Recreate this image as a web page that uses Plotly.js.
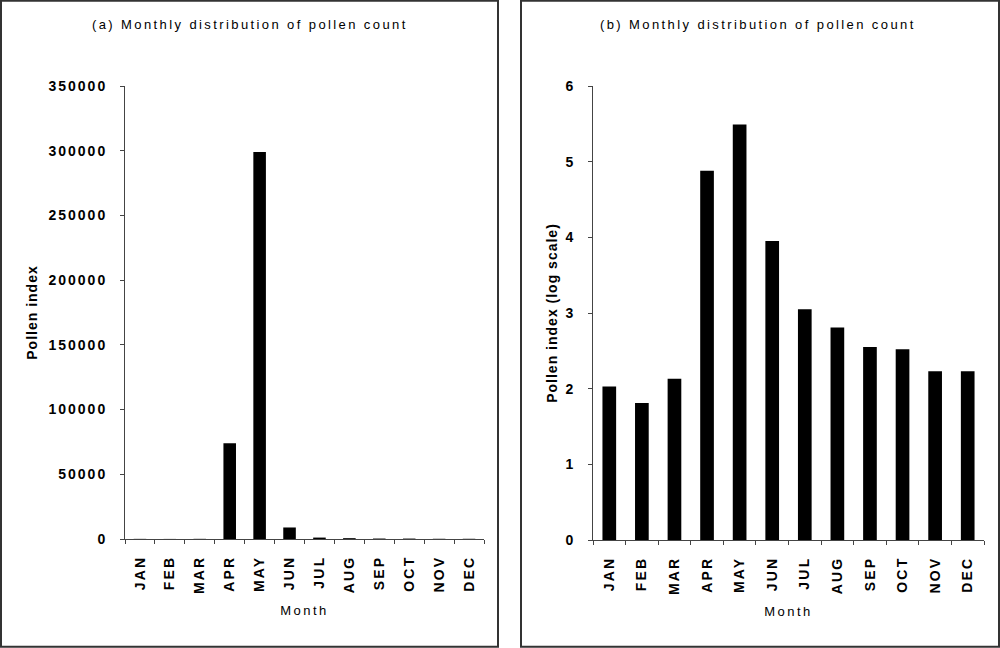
<!DOCTYPE html>
<html>
<head>
<meta charset="utf-8">
<script src="https://cdn.plot.ly/plotly-3.0.1.min.js"></script>
<style>
  html, body { margin: 0; padding: 0; background: #fff; }
  #chart { width: 1000px; height: 648px; }
  .annotation-text { letter-spacing: 2.4px; }
  .xtitle, .x2title { letter-spacing: 2.5px; }
  .ytitle, .y2title { letter-spacing: 1px; }
  .ytick text, .y2tick text { letter-spacing: 2px; }
  .xtick text, .x2tick text { letter-spacing: 2.2px; }
</style>
</head>
<body>
<div id="chart"></div>
<script>
const months = ["JAN", "FEB", "MAR", "APR", "MAY", "JUN", "JUL", "AUG", "SEP", "OCT", "NOV", "DEC"];
const pollenCount = [105, 63, 135, 74000, 299000, 8900, 1100, 650, 355, 330, 170, 170];
const pollenLog = [2.03, 1.81, 2.13, 4.88, 5.49, 3.95, 3.05, 2.81, 2.55, 2.52, 2.23, 2.23];
const leftTicks = [0, 50000, 100000, 150000, 200000, 250000, 300000, 350000];
const rightTicks = [0, 1, 2, 3, 4, 5, 6];

const FAMILY = "Liberation Sans, Arial, sans-serif";
const tickFont = { family: FAMILY, size: 14, color: "#000", weight: "bold" };
const titleFont = { family: FAMILY, size: 13, color: "#000" };
const yTitleFont = { family: FAMILY, size: 14, color: "#000", weight: "bold" };

const data = [
  { type: "bar", x: months, y: pollenCount, xaxis: "x", yaxis: "y",
    marker: { color: "#000", line: { width: 0 } }, hoverinfo: "x+y" },
  { type: "bar", x: months, y: pollenLog, xaxis: "x2", yaxis: "y2",
    marker: { color: "#000", line: { width: 0 } }, hoverinfo: "x+y" }
];

const axisLine = { showline: true, linecolor: "#444", linewidth: 1, showgrid: false, zeroline: false,
  ticks: "outside", ticklen: 4, tickcolor: "#444", tickwidth: 1 };

const layout = {
  width: 1000, height: 648,
  margin: { l: 0, r: 0, t: 0, b: 0 },
  paper_bgcolor: "#fff", plot_bgcolor: "#fff",
  showlegend: false,
  bargap: 0.58,
  xaxis: Object.assign({}, axisLine, {
    domain: [0.125, 0.484], anchor: "y", type: "category",
    tickson: "boundaries", tickangle: -90, tickfont: tickFont, ticklabelstandoff: 10,
    title: { text: "Month", font: titleFont, standoff: 12 }
  }),
  yaxis: Object.assign({}, axisLine, {
    domain: [1 - 539 / 648, 1 - 86 / 648], anchor: "x",
    range: [0, 350000], tickvals: leftTicks, ticktext: leftTicks.map(String),
    tickfont: tickFont, ticklabelstandoff: 10,
    title: { text: "Pollen index", font: yTitleFont, standoff: 7 }
  }),
  xaxis2: Object.assign({}, axisLine, {
    domain: [0.593, 0.984], anchor: "y2", type: "category",
    tickson: "boundaries", tickangle: -90, tickfont: tickFont, ticklabelstandoff: 10,
    title: { text: "Month", font: titleFont, standoff: 12 }
  }),
  yaxis2: Object.assign({}, axisLine, {
    domain: [1 - 540 / 648, 1 - 86 / 648], anchor: "x2",
    range: [0, 6], tickvals: rightTicks, ticktext: rightTicks.map(String),
    tickfont: tickFont, ticklabelstandoff: 10,
    title: { text: "Pollen index (log scale)", font: yTitleFont, standoff: 4 }
  }),
  annotations: [
    { text: "(a) Monthly distribution of pollen count", xref: "paper", yref: "paper",
      x: 0.25, y: 1 - 25 / 648, xanchor: "center", yanchor: "middle", showarrow: false, font: titleFont },
    { text: "(b) Monthly distribution of pollen count", xref: "paper", yref: "paper",
      x: 0.758, y: 1 - 25 / 648, xanchor: "center", yanchor: "middle", showarrow: false, font: titleFont }
  ],
  shapes: [
    { type: "rect", xref: "paper", yref: "paper", x0: 0.001, x1: 0.498, y0: 0.002, y1: 0.999,
      line: { color: "#333", width: 2 }, fillcolor: "rgba(0,0,0,0)", layer: "below" },
    { type: "rect", xref: "paper", yref: "paper", x0: 0.521, x1: 0.999, y0: 0.002, y1: 0.999,
      line: { color: "#333", width: 2 }, fillcolor: "rgba(0,0,0,0)", layer: "below" }
  ]
};

Plotly.newPlot("chart", data, layout, { displayModeBar: false, staticPlot: true });
</script>
</body>
</html>
